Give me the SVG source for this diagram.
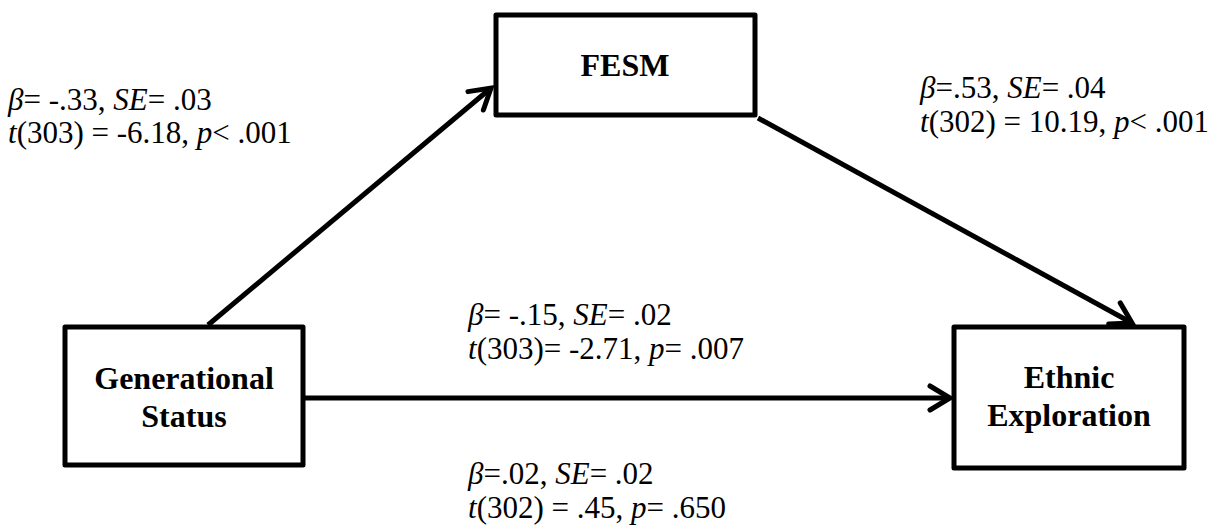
<svg xmlns="http://www.w3.org/2000/svg" width="1230" height="526" viewBox="0 0 1230 526">
<style>
.box{fill:#fff;stroke:#000;stroke-width:5;stroke-linejoin:round}
.node{font-family:"Liberation Serif","Times New Roman",serif;font-weight:bold;font-size:32px;text-anchor:middle;fill:#000}
.lbl{font-family:"Liberation Serif","Times New Roman",serif;font-size:31px;fill:#000}
.edge{stroke:#000;stroke-width:5;fill:none;marker-end:url(#arr)}
</style>
<defs>
<marker id="arr" markerUnits="userSpaceOnUse" markerWidth="30" markerHeight="30" refX="24" refY="15" orient="auto" overflow="visible">
<path d="M4,3 L24,15 L4,27" fill="none" stroke="#000" stroke-width="5" stroke-linecap="round" stroke-linejoin="miter"/>
</marker>
</defs>
<rect width="1230" height="526" fill="#fff"/>
<g id="connectors">
<line class="edge" x1="208" y1="325" x2="491" y2="88"/>
<line class="edge" x1="758" y1="118" x2="1132" y2="323"/>
<line class="edge" x1="305" y1="398" x2="950" y2="398"/>
</g>
<g id="node-fesm">
<rect class="box" x="496" y="15" width="259" height="100"/>
<text class="node" x="625" y="76">FESM</text>
</g>
<g id="node-gen">
<rect class="box" x="65" y="327" width="238" height="138"/>
<text class="node" x="184" y="389">Generational</text>
<text class="node" x="184" y="427">Status</text>
</g>
<g id="node-ethnic">
<rect class="box" x="954" y="327" width="230" height="141"/>
<text class="node" x="1069" y="388">Ethnic</text>
<text class="node" x="1069" y="426">Exploration</text>
</g>
<g id="labels">
<text class="lbl" x="8" y="110"><tspan font-style="italic">β</tspan>= -.33, <tspan font-style="italic">SE</tspan>= .03</text>
<text class="lbl" x="8" y="143"><tspan font-style="italic">t</tspan>(303) = -6.18, <tspan font-style="italic">p</tspan>&lt; .001</text>
<text class="lbl" x="920" y="98"><tspan font-style="italic">β</tspan>=.53, <tspan font-style="italic">SE</tspan>= .04</text>
<text class="lbl" x="920" y="132"><tspan font-style="italic">t</tspan>(302) = 10.19, <tspan font-style="italic">p</tspan>&lt; .001</text>
<text class="lbl" x="468" y="325"><tspan font-style="italic">β</tspan>= -.15, <tspan font-style="italic">SE</tspan>= .02</text>
<text class="lbl" x="468" y="359"><tspan font-style="italic">t</tspan>(303)= -2.71, <tspan font-style="italic">p</tspan>= .007</text>
<text class="lbl" x="468" y="484"><tspan font-style="italic">β</tspan>=.02, <tspan font-style="italic">SE</tspan>= .02</text>
<text class="lbl" x="468" y="518"><tspan font-style="italic">t</tspan>(302) = .45, <tspan font-style="italic">p</tspan>= .650</text>
</g>
</svg>
